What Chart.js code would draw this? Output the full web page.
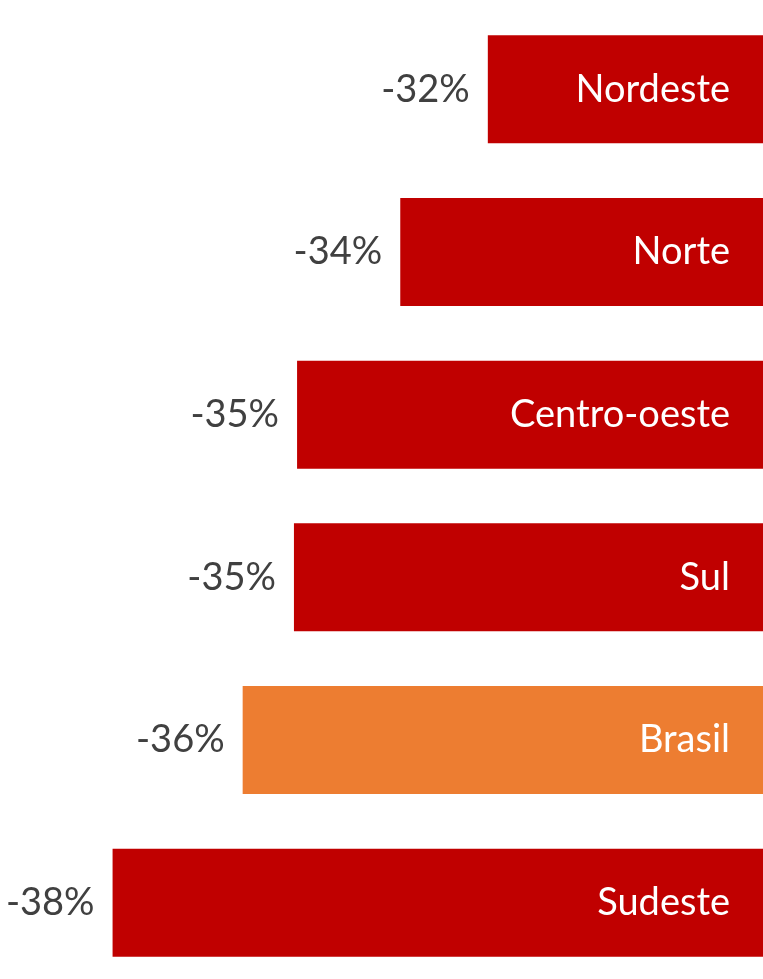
<!DOCTYPE html>
<html>
<head>
<meta charset="utf-8">
<script src="https://cdn.jsdelivr.net/npm/chart.js@4/dist/chart.umd.min.js"></script>
<style>
  html, body { margin: 0; padding: 0; background: #ffffff; overflow: hidden; }
  #wrap { position: absolute; left: 0; top: 0; width: 763px; height: 984px; }
</style>
</head>
<body>
<div id="wrap"><canvas id="c"></canvas></div>
<script>
// Data
const regions = ['Nordeste', 'Norte', 'Centro-oeste', 'Sul', 'Brasil', 'Sudeste'];
const values = [-32.2, -33.6, -35.25, -35.3, -36.12, -38.2];
const valueLabels = ['-32%', '-34%', '-35%', '-35%', '-36%', '-38%'];
const highlight = 'Brasil';

const RED = '#C00000';
const ORANGE = '#ED7D31';
const FONT = '38px Lato, "Open Sans", sans-serif';

const labelPlugin = {
  id: 'barLabels',
  afterDatasetsDraw(chart) {
    const ctx = chart.ctx;
    const meta = chart.getDatasetMeta(0);
    const xs = chart.scales.x;
    const basePx = xs.getPixelForValue(xs.max);
    ctx.save();
    ctx.font = FONT;
    ctx.textBaseline = 'middle';
    ctx.textAlign = 'right';
    meta.data.forEach((bar, i) => {
      const bx = bar.x, by = bar.y;
      ctx.fillStyle = '#ffffff';
      ctx.fillText(regions[i], basePx - 33, by);
      ctx.fillStyle = '#404040';
      ctx.fillText(valueLabels[i], bx - 18, by);
    });
    ctx.restore();
  }
};

new Chart(document.getElementById('c'), {
  type: 'bar',
  data: {
    labels: regions,
    datasets: [{
      data: values,
      backgroundColor: regions.map(r => r === highlight ? ORANGE : RED),
      borderWidth: 0,
      categoryPercentage: 1,
      barPercentage: 0.664
    }]
  },
  options: {
    indexAxis: 'y',
    responsive: true,
    maintainAspectRatio: false,
    animation: false,
    layout: { padding: { top: 8, bottom: 0, left: 0, right: 0 } },
    plugins: { legend: { display: false }, tooltip: { enabled: false } },
    scales: {
      x: { display: false, min: -40, max: -27.8 },
      y: { display: false }
    }
  },
  plugins: [labelPlugin]
});
</script>
</body>
</html>
